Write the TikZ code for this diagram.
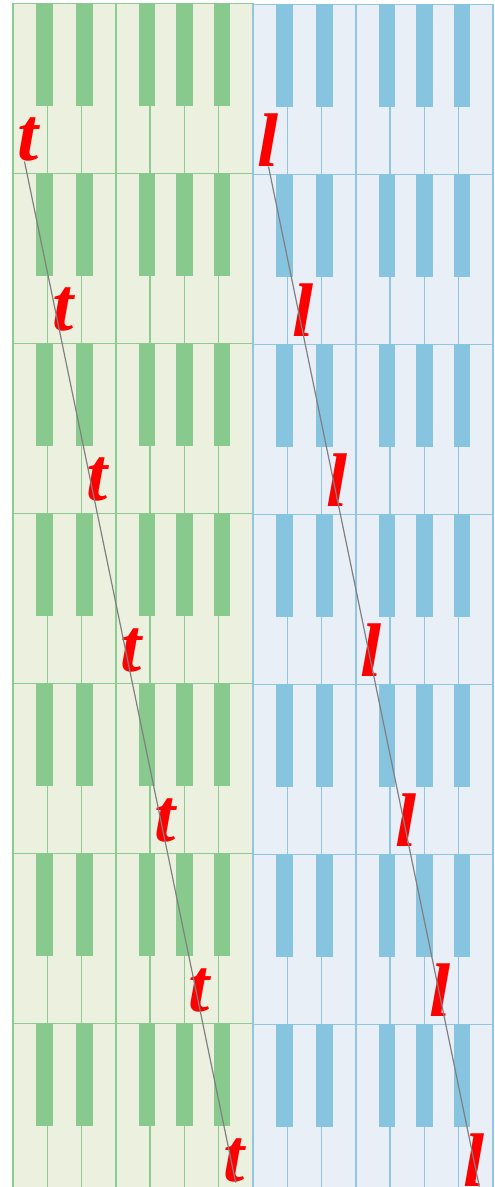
\documentclass[tikz,border=0pt]{standalone}
\usepackage{fontspec}
\setmainfont{Liberation Serif}
\usepackage{xcolor}
\definecolor{greenkey}{RGB}{136,202,141}
\definecolor{greenwhite}{RGB}{235,241,222}
\definecolor{greenline}{RGB}{140,204,146}
\definecolor{bluekey}{RGB}{135,196,224}
\definecolor{bluewhite}{RGB}{233,239,247}
\definecolor{blueline}{RGB}{146,197,222}
\tikzset{
	letter/.style={text=red, font=\fontsize{76}{76}\selectfont\bfseries\itshape, inner sep=0pt},
	trail/.style={draw=gray, line width=1.2pt}
}

\begin{document}
\begin{tikzpicture}[x=1pt,y=-1pt]
	\useasboundingbox (0,0) rectangle (495,1187);
	
	\foreach \cx/\cy/\col in {13/3.3/green, 253/4.3/blue}
	{
		\foreach \r in {0,...,6}
		{
			\pgfmathsetmacro{\rowy}{\cy+170*\r}
			\draw [line width=1.6pt, draw=\col line, fill=\col white] (\cx,\rowy) rectangle (\cx+240,\rowy+170);
			\foreach \k in {1,...,6}
				\draw [line width=1.4pt, draw=\col line] (\cx+34.29*\k,\rowy) -- (\cx+34.29*\k,\rowy+170);
			\foreach \b in {0.68,1.84,3.67,4.76,5.86}
				\fill [\col key] (\cx+34.29*\b,\rowy) rectangle (\cx+34.29*\b+16.5,\rowy+103);
		}
	}
	
	\foreach \r in {0,...,6}
	{
		\node [letter] at (28.5+34.2*\r,139.5+170.2*\r) (t\r) {t};
		\node [letter] at (268.5+34.3*\r,140+170*\r) (l\r) {l};
	}
	\draw [trail] ([xshift=-4pt]t0.south) -- ([xshift=2pt]t6.south);
	\draw [trail] (l0.south) -- ([xshift=5pt]l6.south);
\end{tikzpicture}
\end{document}
